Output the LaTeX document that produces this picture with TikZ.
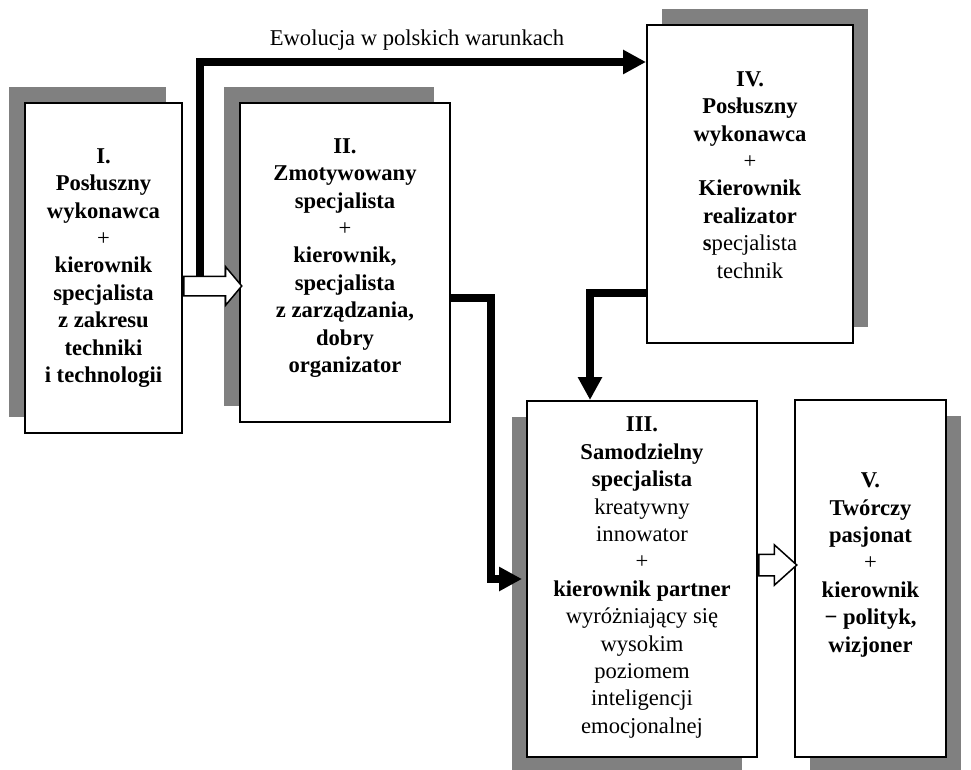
\documentclass[tikz,border=0pt]{standalone}
\usepackage{fontspec}
\setmainfont{Liberation Serif}
\usetikzlibrary{arrows.meta,shapes.arrows,shadows,calc}

\tikzset{
  ramka/.style={draw, line width=2pt, fill=white, inner sep=0pt},
  cien/.style 2 args={general shadow={fill=black!50, shadow xshift=#1, shadow yshift=#2}},
  tekst/.style={align=center, inner sep=0pt, font=\fontsize{22.6}{27.4}\selectfont},
  gruba/.style={line width=7.5pt, -{Triangle[length=23pt,width=23pt]}},
  pusta/.style={single arrow, draw, fill=white, line width=1.5pt, inner xsep=0pt, anchor=tail}
}

\begin{document}
\begin{tikzpicture}[x=1pt, y=-1pt] %Ewolucja rol kierownika
    \useasboundingbox (0,0) rectangle (971,770);

    % ramki z cieniem
    \node[ramka, cien={-16pt}{16pt}, minimum width=157, minimum height=330] (boxI) at (103.5,268) {};
    \node[ramka, cien={-16pt}{16pt}, minimum width=210, minimum height=319] (boxII) at (345,262.5) {};
    \node[ramka, cien={15pt}{16pt}, minimum width=206, minimum height=318] (boxIV) at (750,184) {};
    \node[ramka, cien={-15pt}{-16pt}, minimum width=230, minimum height=356] (boxIII) at (642,579) {};
    \node[ramka, cien={15pt}{-16pt}, minimum width=151, minimum height=357] (boxV) at (870.5,578.5) {};

    % teksty
    \node[tekst] (tI) at (boxI) {\textbf{I.}\\ \textbf{Posłuszny}\\ \textbf{wykonawca}\\ +\\ \textbf{kierownik}\\ \textbf{specjalista}\\ \textbf{z zakresu}\\ \textbf{techniki}\\ \textbf{i technologii}};
    \node[tekst] (tII) at ($(boxII)+(0,-4.5)$) {\textbf{II.}\\ \textbf{Zmotywowany}\\ \textbf{specjalista}\\ +\\ \textbf{kierownik,}\\ \textbf{specjalista}\\ \textbf{z zarządzania,}\\ \textbf{dobry}\\ \textbf{organizator}};
    \node[tekst] (tIV) at ($(boxIV)+(0,-9)$) {\textbf{IV.}\\ \textbf{Posłuszny}\\ \textbf{wykonawca}\\ +\\ \textbf{Kierownik}\\ \textbf{realizator}\\ \textbf{s}pecjalista\\ technik};
    \node[tekst] (tIII) at ($(boxIII)+(0,-1.5)$) {\textbf{III.}\\ \textbf{Samodzielny}\\ \textbf{specjalista}\\ kreatywny\\ innowator\\ +\\ \textbf{kierownik partner}\\ wyróżniający się\\ wysokim\\ poziomem\\ inteligencji\\ emocjonalnej};
    \node[tekst] (tV) at ($(boxV)+(0,-13.5)$) {\textbf{V.}\\ \textbf{Twórczy}\\ \textbf{pasjonat}\\ +\\ \textbf{kierownik}\\ \textbf{− polityk,}\\ \textbf{wizjoner}};

    % strzalki puste
    \node[pusta, inner ysep=9pt, minimum height=58, single arrow head extend=9.5pt, single arrow tip angle=100] (strzI) at ($(boxI.east)+(0,18)$) {};
    \node[pusta, inner ysep=10pt, minimum height=38, single arrow head extend=9.5pt, single arrow tip angle=84] (strzIII) at ($(boxIII.east)+(0,-14)$) {};

    % strzalki grube
    \coordinate (ewo) at (200,277);
    \draw[gruba] (ewo) |- ($(boxIV.north west)+(0,38)$);
    \node[tekst] (ewolucja) at (417,40) {Ewolucja w polskich warunkach};
    \draw[gruba, shorten >=4pt] ($(boxII.east)+(0,35.5)$) -- ++(40,0) |- (boxIII.west);
    \draw[gruba] ($(boxIV.west)+(0,109)$) -| ($(boxIII.north)+(-52,0)$);
\end{tikzpicture}
\end{document}
